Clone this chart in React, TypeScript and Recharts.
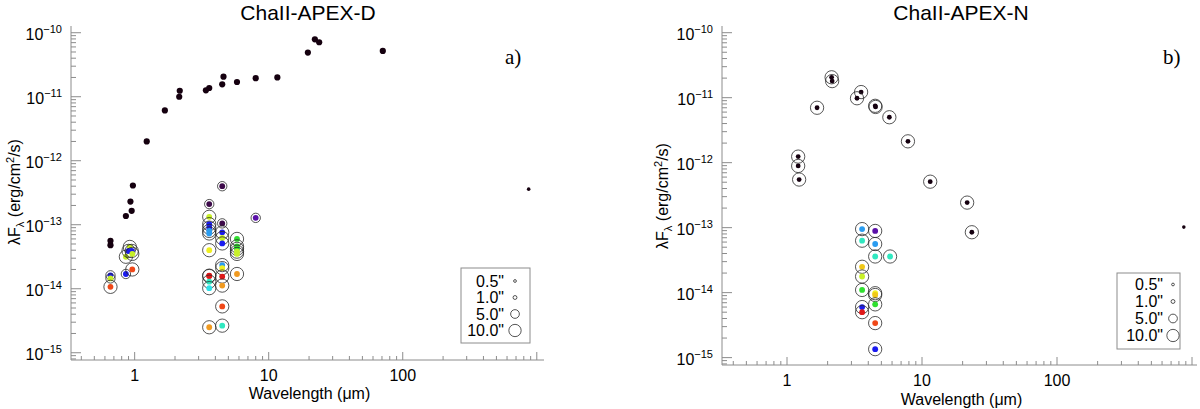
import React from 'react';
import { ScatterChart, Scatter, XAxis, YAxis } from 'recharts';

// ChaII-APEX-D (panel a): SED photometry (black), submm point, and colour-coded components
const dSedWave = [0.66, 0.66, 0.86, 0.93, 0.95, 0.97, 1.23, 1.68, 2.15, 2.17, 3.4, 3.6, 4.5, 4.6, 5.8, 8.0, 11.6, 19.6, 22.1, 23.8, 71];
const dSedFlux = [4.8e-14, 5.6e-14, 1.37e-13, 2.3e-13, 1.65e-13, 4.1e-13, 2.0e-12, 6.1e-12, 1.0e-11, 1.24e-11, 1.26e-11, 1.37e-11, 1.56e-11, 2.06e-11, 1.7e-11, 1.95e-11, 2.0e-11, 4.9e-11, 7.9e-11, 7.1e-11, 5.2e-11];
const dSedAperture = [0, 0, 0, 0, 0, 0, 1, 0, 0, 0, 0, 0, 0, 0, 0, 0, 0, 0, 0, 0, 1];
const dSubmmWave = [870];
const dSubmmFlux = [3.6e-13];

const dCompWave = [
  0.66, 0.66, 0.66, 0.86, 0.86, 0.92, 0.9, 0.95, 0.96, 0.96,
  3.6, 3.6, 3.6, 3.6, 3.6, 3.6, 3.6, 3.6, 3.6, 3.6, 3.6, 3.6,
  4.5, 4.5, 4.5, 4.5, 4.5, 4.5, 4.5, 4.5, 4.5, 4.5, 4.5,
  5.8, 5.8, 5.8, 5.8, 5.8, 5.8, 8.0,
];
const dCompFlux = [
  1.62e-14, 1.45e-14, 1.07e-14, 3.16e-14, 1.7e-14, 4.5e-14, 3.9e-14, 3.9e-14, 3.5e-14, 2.0e-14,
  2.1e-13, 1.33e-13, 1.02e-13, 9.0e-14, 8.0e-14, 7.3e-14, 4.0e-14, 1.6e-14, 1.58e-14, 1.29e-14, 1.02e-14, 2.5e-15,
  4.0e-13, 1.05e-13, 7.6e-14, 6.2e-14, 5.1e-14, 2.34e-14, 2.1e-14, 1.55e-14, 1.12e-14, 5.3e-15, 2.65e-15,
  6.0e-14, 4.6e-14, 4.2e-14, 3.8e-14, 3.5e-14, 1.7e-14, 1.28e-13,
];
const dCompColor = [
  'blue', 'yellowgreen', 'redorange', 'yellowgreen', 'blue', 'yellowgreen', 'blue', 'blue', 'yellowgreen', 'redorange',
  'darkpurple', 'yellowgreen', 'blue', 'blue', 'lightblue', 'lightblue', 'yellow', 'red', 'red', 'teal', 'cyan', 'orange',
  'darkpurple', 'darkpurple', 'blue', 'yellowgreen', 'blue', 'lightblue', 'yellow', 'red', 'orange', 'redorange', 'teal',
  'green', 'green', 'green', 'yellowgreen', 'yellowgreen', 'orange', 'purple',
];
const dCompAperture = [
  5, 5, 10, 10, 5, 10, 10, 10, 10, 10,
  5, 10, 10, 10, 10, 10, 10, 10, 10, 10, 10, 10,
  5, 5, 10, 10, 10, 10, 10, 10, 10, 10, 10,
  10, 10, 10, 10, 10, 10, 5,
];

// ChaII-APEX-N (panel b)
const nSedWave = [1.21, 1.21, 1.23, 1.67, 2.14, 2.16, 3.54, 3.3, 4.53, 4.5, 5.73, 7.87, 11.5, 21.6, 23.4];
const nSedFlux = [1.24e-12, 8.9e-13, 5.5e-13, 7.0e-12, 2.06e-11, 1.8e-11, 1.22e-11, 9.8e-12, 7.2e-12, 7.5e-12, 5.0e-12, 2.13e-12, 5.1e-13, 2.43e-13, 8.5e-14];
const nSedAperture = [10, 10, 10, 10, 10, 10, 10, 10, 10, 10, 10, 10, 10, 10, 10];
const nSubmmWave = [870];
const nSubmmFlux = [1.02e-13];

const nCompWave = [3.6, 3.6, 3.6, 3.6, 3.6, 3.6, 3.6, 4.5, 4.5, 4.5, 4.5, 4.5, 4.5, 4.5, 4.5, 5.8];
const nCompFlux = [9.5e-14, 6.3e-14, 2.5e-14, 1.77e-14, 1.1e-14, 6.0e-15, 5.0e-15, 8.9e-14, 5.6e-14, 3.6e-14, 9.8e-15, 9.2e-15, 6.6e-15, 3.4e-15, 1.35e-15, 3.6e-14];
const nCompColor = ['lightblue', 'teal', 'gold', 'yellowgreen', 'green', 'blue', 'red', 'purple', 'lightblue', 'teal', 'yellow', 'gold', 'green', 'redorange', 'blue', 'teal'];
const nCompAperture = [10, 10, 10, 10, 10, 10, 10, 10, 10, 10, 10, 10, 10, 10, 10, 10];

const waveMajor = [1, 10, 100];
const waveLabels = ['1', '10', '100'];
const legendApertures = [0.5, 1.0, 5.0, 10.0];
const legendLabels = ['0.5"', '1.0"', '5.0"', '10.0"'];

const PALETTE: Record<string, string> = {
  black: '#15000f',
  darkpurple: '#3d0a4a',
  purple: '#5a10a8',
  blue: '#1a1af0',
  lightblue: '#2a9cf0',
  cyan: '#30e0e8',
  teal: '#30e8c0',
  green: '#30e030',
  yellowgreen: '#c8f028',
  yellow: '#f0f020',
  gold: '#f0c818',
  orange: '#f09a20',
  redorange: '#f04818',
  red: '#e01818',
};

const FRAME = '#8c8c8c';
const SANS = '"Liberation Sans", Arial, Helvetica, sans-serif';
const SERIF = '"Liberation Serif", "Times New Roman", serif';

const ringRadius = (ap: number) => 2.1 * Math.sqrt(ap);

const rows = (w: number[], f: number[], c?: string[], ap?: number[]) =>
  w.map((x, i) => ({ wave: x, flux: f[i], color: c ? c[i] : 'black', ap: ap ? ap[i] : 0 }));

const logTicks = (lo: number, hi: number) => {
  const out: number[] = [];
  for (let e = Math.floor(Math.log10(lo)); e <= Math.ceil(Math.log10(hi)); e++) {
    for (let d = 1; d <= 9; d++) {
      const v = d * Math.pow(10, e);
      if (v >= lo && v <= hi) out.push(v);
    }
  }
  return out;
};
const isMajor = (v: number) => Math.abs(Math.log10(v) - Math.round(Math.log10(v))) < 1e-6;

const makeSpot = (r: number) => (p: any) => {
  const { cx, cy, payload } = p;
  if (cx == null || cy == null) return <g />;
  return (
    <g>
      {payload.ap > 0 && (
        <circle cx={cx} cy={cy} r={ringRadius(payload.ap)} fill="none" stroke="#2a2a2a" strokeWidth={0.8} />
      )}
      <circle cx={cx} cy={cy} r={r} fill={PALETTE[payload.color]} />
    </g>
  );
};

const BottomTick = (p: any) => {
  const { x, y, payload } = p;
  const major = isMajor(payload.value);
  const idx = waveMajor.findIndex((m) => Math.abs(m - payload.value) < 1e-6);
  return (
    <g>
      <line x1={x} x2={x} y1={y} y2={y - (major ? 8 : 4)} stroke={FRAME} />
      {idx >= 0 && (
        <text x={x} y={y + 21} textAnchor="middle" fontSize={16} fontFamily={SANS} fill="#000">
          {waveLabels[idx]}
        </text>
      )}
    </g>
  );
};
const TopTick = (p: any) => {
  const { x, y, payload } = p;
  const major = isMajor(payload.value);
  return <line x1={x} x2={x} y1={y} y2={y + (major ? 8 : 4)} stroke={FRAME} />;
};
const LeftTick = (p: any) => {
  const { x, y, payload } = p;
  const major = isMajor(payload.value);
  const exp = Math.round(Math.log10(payload.value));
  return (
    <g>
      <line x1={x} x2={x + (major ? 10 : 5)} y1={y} y2={y} stroke={FRAME} />
      {major && (
        <text x={x - 9} y={y + 7} textAnchor="end" fontSize={16} fontFamily={SANS} fill="#000">
          10<tspan dy={-7} fontSize={11}>{'\u2212' + Math.abs(exp)}</tspan>
        </text>
      )}
    </g>
  );
};
const RightTick = (p: any) => {
  const { x, y, payload } = p;
  const major = isMajor(payload.value);
  return <line x1={x} x2={x - (major ? 10 : 5)} y1={y} y2={y} stroke={FRAME} />;
};

interface PanelProps {
  title: string;
  tag: string;
  sed: any[];
  submm: any[];
  comps: any[];
  sedR: number;
  xDomain: [number, number];
  yDomain: [number, number];
  left: number;
  right: number;
  bottom: number;
  titleX: number;
  tagX: number;
  xTitleY: number;
  yTitleX: number;
  yTitleY: number;
  legend: { x0: number; y0: number; w: number; h: number; textX: number; circX: number; base: number; step: number };
}

const TOP = 26;

const Panel: React.FC<PanelProps> = (pp) => {
  const xt = logTicks(pp.xDomain[0], pp.xDomain[1]);
  const yt = logTicks(pp.yDomain[0], pp.yDomain[1]);
  const lg = pp.legend;
  const plotW = 600 - pp.left - pp.right;
  return (
    <div style={{ position: 'relative', width: 600, height: 409 }}>
      <ScatterChart width={600} height={409} margin={{ top: TOP, right: pp.right, bottom: 0, left: 0 }}>
        <XAxis xAxisId="b" dataKey="wave" type="number" scale="log" domain={pp.xDomain} allowDataOverflow
          ticks={xt} interval={0} tickLine={false} tickSize={0} tickMargin={0} height={pp.bottom}
          axisLine={{ stroke: FRAME }} tick={(p: any) => <BottomTick {...p} />} />
        <XAxis xAxisId="t" orientation="top" dataKey="wave" type="number" scale="log" domain={pp.xDomain} allowDataOverflow
          ticks={xt} interval={0} tickLine={false} tickSize={0} tickMargin={0} height={0}
          axisLine={{ stroke: FRAME }} tick={(p: any) => <TopTick {...p} />} />
        <YAxis yAxisId="l" dataKey="flux" type="number" scale="log" domain={pp.yDomain} allowDataOverflow
          ticks={yt} interval={0} tickLine={false} tickSize={0} tickMargin={0} width={pp.left}
          axisLine={{ stroke: FRAME }} tick={(p: any) => <LeftTick {...p} />} />
        <YAxis yAxisId="r" orientation="right" dataKey="flux" type="number" scale="log" domain={pp.yDomain} allowDataOverflow
          ticks={yt} interval={0} tickLine={false} tickSize={0} tickMargin={0} width={0}
          axisLine={{ stroke: FRAME }} tick={(p: any) => <RightTick {...p} />} />
        <Scatter xAxisId="b" yAxisId="l" data={pp.sed} shape={makeSpot(pp.sedR)} isAnimationActive={false} />
        <Scatter xAxisId="b" yAxisId="l" data={pp.submm} shape={makeSpot(1.8)} isAnimationActive={false} />
        <Scatter xAxisId="b" yAxisId="l" data={pp.comps} shape={makeSpot(2.9)} isAnimationActive={false} />
      </ScatterChart>
      <svg width={600} height={409} style={{ position: 'absolute', left: 0, top: 0, pointerEvents: 'none' }}>
        <text x={pp.titleX} y={20} textAnchor="middle" fontSize={21} fontFamily={SANS}>{pp.title}</text>
        <text x={pp.tagX} y={64} fontSize={21} fontFamily={SERIF}>{pp.tag}</text>
        <text x={pp.left + plotW / 2 + 2} y={pp.xTitleY} textAnchor="middle" fontSize={16} fontFamily={SANS}>
          Wavelength (μm)
        </text>
        <text transform={`translate(${pp.yTitleX},${pp.yTitleY}) rotate(-90)`} textAnchor="middle" fontSize={16} fontFamily={SANS}>
          λF<tspan dy={4} fontSize={11}>λ</tspan>
          <tspan dy={-4}> (erg/cm</tspan>
          <tspan dy={-6} fontSize={11}>2</tspan>
          <tspan dy={6}>/s)</tspan>
        </text>
        <rect x={lg.x0} y={lg.y0} width={lg.w} height={lg.h} fill="#fff" stroke={FRAME} />
        {legendApertures.map((ap, i) => (
          <g key={i}>
            <text x={lg.textX} y={lg.base + i * lg.step} textAnchor="end" fontSize={16} fontFamily={SANS}>
              {legendLabels[i]}
            </text>
            <circle cx={lg.circX} cy={lg.base + i * lg.step - 5.5} r={1.95 * Math.sqrt(ap)} fill="none" stroke="#2a2a2a" strokeWidth={0.8} />
          </g>
        ))}
      </svg>
    </div>
  );
};

export default function App() {
  return (
    <div style={{ position: 'absolute', left: 0, top: 0, width: 1200, height: 409, background: '#fff' }}>
      <div style={{ position: 'absolute', left: 0, top: 0 }}>
        <Panel
          title="ChaII-APEX-D" tag="a)"
          sed={rows(dSedWave, dSedFlux, undefined, dSedAperture)}
          submm={rows(dSubmmWave, dSubmmFlux)}
          comps={rows(dCompWave, dCompFlux, dCompColor, dCompAperture)}
          sedR={3.1}
          xDomain={[0.335, 1132]} yDomain={[7.7e-16, 1.274e-10]}
          left={71} right={56} bottom={49}
          titleX={308} tagX={505} xTitleY={399} yTitleX={20} yTitleY={192}
          legend={{ x0: 461, y0: 268, w: 69, h: 75, textX: 504, circX: 515, base: 286.5, step: 16.5 }}
        />
      </div>
      <div style={{ position: 'absolute', left: 600, top: 0 }}>
        <Panel
          title="ChaII-APEX-N" tag="b)"
          sed={rows(nSedWave, nSedFlux, undefined, nSedAperture)}
          submm={rows(nSubmmWave, nSubmmFlux)}
          comps={rows(nCompWave, nCompFlux, nCompColor, nCompAperture)}
          sedR={2.4}
          xDomain={[0.33, 1089]} yDomain={[7.7e-16, 1.268e-10]}
          left={122} right={3} bottom={44}
          titleX={361} tagX={563} xTitleY={405} yTitleX={68} yTitleY={196}
          legend={{ x0: 517, y0: 273, w: 63, h: 76, textX: 563, circX: 573, base: 290, step: 17 }}
        />
      </div>
    </div>
  );
}
